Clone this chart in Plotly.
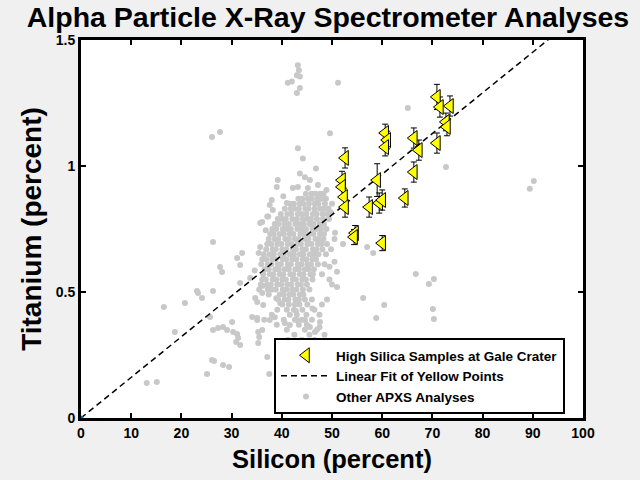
import numpy as np
import plotly.graph_objects as go

# ---------------- data ----------------
# High silica samples (Si %, Ti %, error)
hs_si = [70.9, 71.5, 73.5, 72.7, 72.9, 70.9, 67.3, 66.3, 60.6, 61.0, 60.6, 52.6, 66.3,
         59.0, 64.5, 52.0, 52.0, 52.4, 52.6, 57.4, 59.4, 60.0, 54.6, 54.4, 60.0]
hs_ti = [1.274, 1.234, 1.238, 1.175, 1.155, 1.091, 1.063, 1.111, 1.131, 1.103, 1.075, 1.032, 0.976,
         0.944, 0.873, 0.944, 0.917, 0.877, 0.837, 0.837, 0.853, 0.865, 0.734, 0.718, 0.694]
hs_err = [0.05, 0.04, 0.04, 0.035, 0.035, 0.04, 0.04, 0.04, 0.035, 0.035, 0.035, 0.04, 0.04,
          0.065, 0.036, 0.035, 0.035, 0.035, 0.04, 0.04, 0.04, 0.04, 0.03, 0.03, 0.03]

# Linear fit of yellow points (end points)
fit_si = [0, 100]
fit_ti = [0, 1.613]

# Other APXS analyses: scattered points
other_si = [43.2, 43.4, 43.0, 43.6, 41.2, 42.0, 43.6, 43.0, 51.2,
            26.1, 27.7, 49.6, 43.2, 44.2, 46.8,
            43.6, 44.6, 45.6, 39.2, 39.0, 42.2, 43.2, 45.2,
            37.6, 38.0, 41.0, 37.1, 36.1, 35.7, 37.3,
            26.3, 31.1, 32.1, 31.7, 27.7, 28.1, 33.7, 35.7,
            23.1, 23.3, 24.1, 26.3, 20.7, 16.5, 25.7, 30.1,
            26.3, 27.3, 28.3, 29.1, 30.3, 31.1, 31.3, 31.7, 30.9,
            18.7, 26.1, 26.5, 28.3, 29.5, 25.1, 13.1, 15.1,
            34.1, 35.1, 36.1, 35.5, 35.3, 37.1, 37.5,
            36.1, 34.7, 35.1, 36.3, 31.7,
            57.0, 58.2, 66.7, 70.3, 69.3, 56.2, 60.4, 58.8, 70.1, 70.3,
            89.4, 90.2, 72.7, 65.1,
            35.1, 37.6, 38.6, 40.6, 41.6, 43.0, 44.6, 45.6, 46.6, 47.6, 35.3, 41.2, 43.6,
            49.5, 50.5, 51.0, 50.0, 51.0, 49.0, 48.0, 47.5, 48.5, 52.2,
            40.3, 38.2, 36.8, 35.4, 34.6, 36.2, 49.8, 50.6, 48.9, 47.2, 46.1, 42.8, 39.7, 38.9]
other_ti = [1.40, 1.38, 1.36, 1.355, 1.33, 1.335, 1.31, 1.29, 1.33,
            1.115, 1.135, 1.13, 1.07, 1.03, 0.99,
            0.97, 0.955, 0.944, 0.944, 0.917, 0.913, 0.917, 0.913,
            0.845, 0.865, 0.853, 0.80, 0.778, 0.774, 0.80,
            0.698, 0.635, 0.655, 0.607, 0.599, 0.579, 0.556, 0.679,
            0.504, 0.496, 0.476, 0.504, 0.456, 0.44, 0.401, 0.381,
            0.349, 0.357, 0.361, 0.349, 0.341, 0.333, 0.317, 0.29, 0.302,
            0.341, 0.23, 0.226, 0.21, 0.202, 0.175, 0.139, 0.143,
            0.401, 0.389, 0.349, 0.321, 0.298, 0.242, 0.175,
            0.496, 0.476, 0.46, 0.448, 0.536,
            0.679, 0.655, 0.571, 0.552, 0.532, 0.476, 0.448, 0.397, 0.433, 0.393,
            0.91, 0.94, 0.996, 1.23,
            0.397, 0.389, 0.40, 0.377, 0.369, 0.389, 0.389, 0.361, 0.341, 0.381, 0.341, 0.31, 0.298,
            0.60, 0.62, 0.58, 0.53, 0.52, 0.47, 0.45, 0.36, 0.33, 0.69,
            0.88, 0.825, 0.745, 0.655, 0.585, 0.525, 0.815, 0.735, 0.905, 0.925, 0.435, 0.425, 0.455, 0.475]

# Other APXS analyses: dense core, read row by row (Ti level -> Si values)
core_ti = [0.89, 0.87, 0.85, 0.83, 0.81, 0.79, 0.77, 0.75, 0.73, 0.71, 0.69, 0.67, 0.65,
           0.63, 0.61, 0.59, 0.57, 0.55, 0.53, 0.51, 0.49, 0.47, 0.45, 0.43, 0.41, 0.39,
           0.37, 0.35, 0.33, 0.31, 0.28]
core_si = [
    [44.8, 45.9, 46.7, 47.6, 48.3],
    [43.3, 44.1, 45.2, 46.0, 47.1, 47.9, 48.8],
    [41.7, 42.4, 43.6, 44.3, 45.4, 46.6, 47.3, 48.6, 50.0],
    [40.6, 41.8, 42.5, 43.4, 44.7, 45.3, 46.5, 47.6, 48.4, 49.3],
    [39.8, 41.1, 41.9, 43.2, 44.0, 44.9, 46.2, 46.9, 48.1, 49.0],
    [39.2, 40.1, 40.8, 42.1, 43.0, 44.2, 45.1, 45.8, 47.0, 48.2, 49.4],
    [38.6, 39.4, 40.6, 41.4, 42.7, 43.5, 44.4, 45.6, 46.3, 47.5, 48.4],
    [38.1, 38.9, 40.2, 41.0, 41.8, 43.1, 44.0, 44.8, 46.1, 46.9, 47.8, 48.9],
    [37.7, 38.4, 39.6, 40.4, 41.6, 42.3, 43.7, 44.4, 45.5, 46.3, 47.6, 48.4],
    [37.4, 38.6, 39.3, 40.7, 41.4, 42.6, 43.3, 44.6, 45.3, 46.7, 47.4, 48.3, 50.5],
    [37.1, 37.9, 39.1, 39.9, 41.2, 41.9, 43.1, 43.8, 45.1, 45.9, 47.2, 47.9, 49.0],
    [36.9, 38.2, 38.8, 40.1, 40.9, 42.2, 42.8, 44.1, 44.8, 46.2, 46.9, 48.1, 49.8],
    [36.4, 37.6, 38.4, 39.7, 40.4, 41.6, 42.4, 43.6, 44.3, 45.6, 46.4, 47.3, 48.8],
    [36.1, 36.9, 38.1, 38.8, 40.2, 40.9, 42.1, 42.9, 44.2, 44.9, 46.1, 46.8],
    [35.9, 37.2, 37.9, 39.2, 39.8, 41.2, 41.8, 43.2, 43.9, 45.1, 45.8, 47.2, 48.5],
    [36.6, 37.4, 38.7, 39.4, 40.6, 41.4, 42.7, 43.4, 44.6, 45.3, 46.4],
    [36.3, 37.6, 38.3, 39.6, 40.3, 41.7, 42.3, 43.6, 44.3, 45.7, 46.2, 48.0],
    [36.1, 36.8, 38.2, 38.9, 40.1, 40.8, 42.2, 42.8, 44.1, 44.8, 46.1, 49.5],
    [35.8, 37.1, 37.8, 39.1, 39.9, 41.1, 41.9, 43.2, 43.8, 45.0],
    [35.5, 37.2, 38.1, 38.8, 40.2, 41.0, 42.1, 42.9, 44.2, 45.5],
    [37.4, 39.6, 40.4, 41.6, 42.3, 43.6, 44.3],
    [39.3, 40.6, 41.3, 42.7, 43.4, 44.6, 46.0],
    [40.1, 41.4, 42.6, 43.5, 45.1],
    [39.1, 41.0, 42.4, 44.1, 46.5],
    [38.0, 41.6, 43.0, 44.9, 47.5],
    [36.5, 40.4, 42.6, 44.0, 46.0],
    [39.0, 43.4, 45.0],
    [41.0, 44.6, 47.0],
    [42.5, 45.5],
    [44.0, 46.5],
    [43.5, 45.0],
]

origin_si = [0]
origin_ti = [0]

x_ticks = [0, 10, 20, 30, 40, 50, 60, 70, 80, 90, 100]
y_ticks = [0, 0.5, 1, 1.5]
y_ticktext = ["0", "0.5", "1", "1.5"]

# build full gray series
gray_si = list(other_si)
gray_ti = list(other_ti)
for t, row in zip(core_ti, core_si):
    gray_si += row
    gray_ti += [t] * len(row)

FONT = "Liberation Sans, Arial, sans-serif"

fig = go.Figure()

fig.add_trace(go.Scatter(
    x=gray_si, y=gray_ti, mode="markers", name="Other APXS Analyses",
    marker=dict(size=6, color="#c8c8c8"), legendrank=3))

fig.add_trace(go.Scatter(
    x=fit_si, y=fit_ti, mode="lines", name="Linear Fit of Yellow Points",
    line=dict(color="black", width=1.5, dash="6px,4px"), legendrank=2))

fig.add_trace(go.Scatter(
    x=hs_si, y=hs_ti, mode="markers", name="High Silica Samples at Gale Crater",
    marker=dict(symbol="triangle-left", size=13, color="#ffff00",
                line=dict(color="black", width=1)),
    error_y=dict(type="data", array=hs_err, color="black", thickness=1, width=3),
    legendrank=1))

fig.add_trace(go.Scatter(
    x=origin_si, y=origin_ti, mode="markers", showlegend=False,
    marker=dict(size=5, color="#0072bd"), cliponaxis=False))

axis_common = dict(
    showgrid=False, zeroline=False, showline=True, linecolor="black", linewidth=3,
    mirror="ticks", ticks="inside", ticklen=5, tickwidth=2, tickcolor="black",
    automargin=False,
    tickfont=dict(family=FONT, size=14, color="black", weight="bold"),
)

fig.update_layout(
    width=640, height=480,
    paper_bgcolor="#f0f0f0", plot_bgcolor="white",
    margin=dict(l=81, r=57, t=40, b=62, autoexpand=False),
    title=dict(text="Alpha Particle X-Ray Spectrometer Analyses",
               font=dict(family=FONT, size=28.5, color="black", weight="bold"),
               x=328 / 640, xref="container", xanchor="center",
               y=1 - 17 / 480, yref="container", yanchor="middle"),
    xaxis=dict(range=[0, 100], tickvals=x_ticks, ticktext=[str(v) for v in x_ticks],
               title=dict(text="Silicon (percent)", standoff=11,
                          font=dict(family=FONT, size=25.5, color="black", weight="bold")),
               **axis_common),
    yaxis=dict(range=[0, 1.5], tickvals=y_ticks, ticktext=y_ticktext,
               title=dict(text="Titanium (percent)", standoff=6,
                          font=dict(family=FONT, size=28, color="black", weight="bold")),
               **axis_common),
    legend=dict(x=(274 - 81) / 502, y=(418 - 338) / 378, xanchor="left", yanchor="top",
                bgcolor="white", bordercolor="black", borderwidth=2,
                font=dict(family=FONT, size=13.5, color="black", weight="bold"),
                itemwidth=50, tracegroupgap=0),
    showlegend=True,
)

fig.write_html(
    "out.html",
    config={"displayModeBar": False},
    post_script="document.body.style.margin='0';document.body.style.background='#f0f0f0';",
)
